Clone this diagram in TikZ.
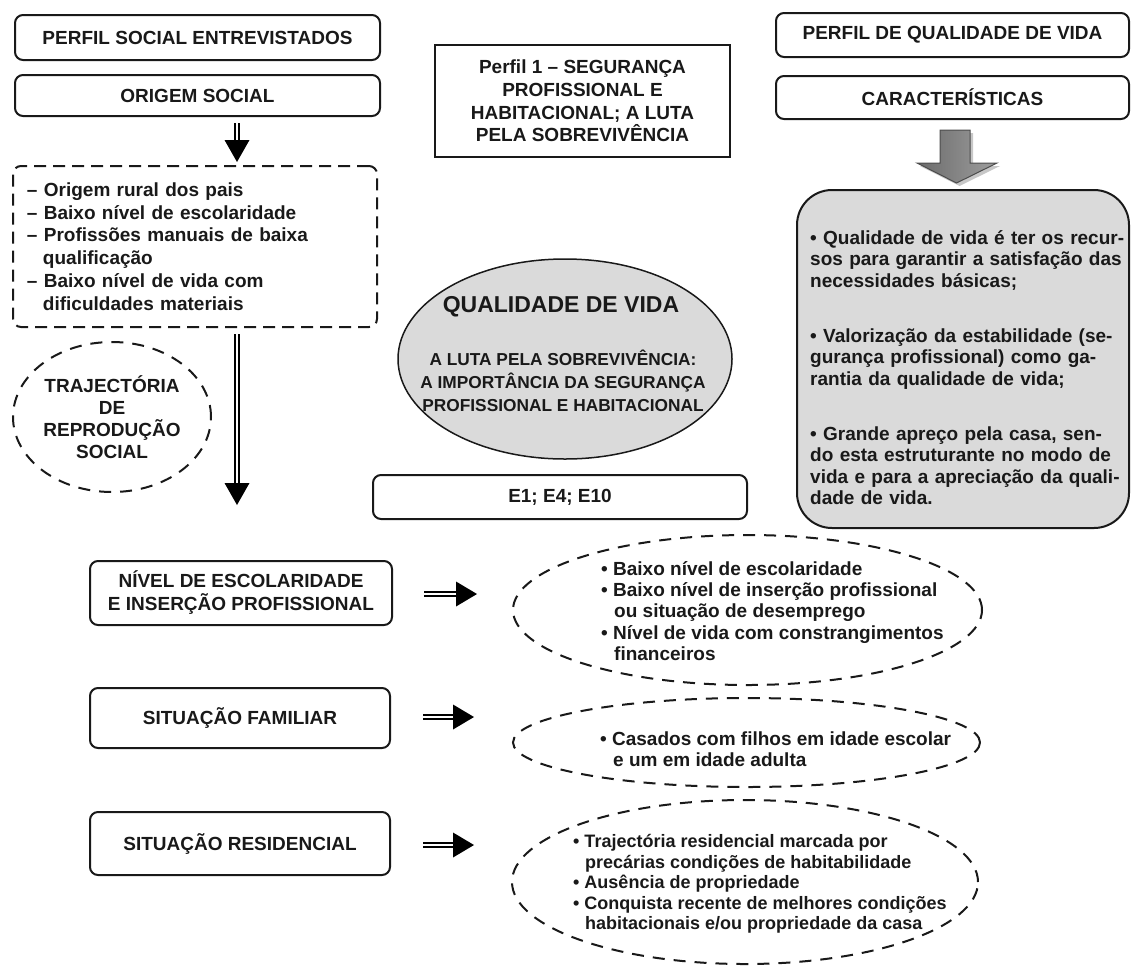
\documentclass[tikz,border=0pt]{standalone}
\usepackage{fontspec}
\setmainfont{Liberation Sans}
\usetikzlibrary{shapes.geometric,calc}
\newcommand\myA{\fontsize{19}{22.8}\selectfont\bfseries}
\newcommand\myP{\fontsize{19}{22.7}\selectfont\bfseries}
\newcommand\myT{\fontsize{23}{27}\selectfont\bfseries}
\newcommand\myS{\fontsize{17.3}{23}\selectfont\bfseries}
\newcommand\myQ{\fontsize{19}{21.5}\selectfont\bfseries}
\newcommand\myE{\fontsize{19}{21.3}\selectfont\bfseries}
\newcommand\myR{\fontsize{18}{20.5}\selectfont\bfseries}
\newcommand\myJ{\fontsize{19}{22}\selectfont\bfseries}
\newcommand\myN{\fontsize{19}{23}\selectfont\bfseries}
\definecolor{txt}{gray}{0.1}
\definecolor{lgray}{gray}{0.855}
\begin{document}
\begin{tikzpicture}[x=1pt,y=-1pt,
  every node/.style={text=txt, inner sep=0pt},
  rbox/.style={draw=txt, line width=2pt, rounded corners=8pt},
  dbox/.style={draw=txt, line width=2pt, dash pattern=on 12pt off 7pt, rounded corners=8pt},
  dell/.style={draw=txt, line width=2pt, dash pattern=on 12pt off 9pt, ellipse},
  dbl/.style={draw=black, double=white, line width=2.6pt, double distance=1.4pt},
  head/.style={fill=black}
]
\useasboundingbox (0,0) rectangle (1131,967);

% ---- left column top
\node[rbox, minimum width=365pt, minimum height=45pt, font=\myA] (psoc) at (197.5,37.5) {PERFIL SOCIAL ENTREVISTADOS};
\node[rbox, minimum width=365pt, minimum height=41pt, font=\myA] (orig) at (197.5,95.5) {ORIGEM SOCIAL};

\node[dbox, minimum width=364pt, minimum height=161pt, text width=336pt, align=left, font=\myA] (dlist) at (195,246.5)
 {– Origem rural dos pais\\
  – Baixo nível de escolaridade\\
  – Profissões manuais de baixa\\
  \hspace*{16pt}qualificação\\
  – Baixo nível de vida com\\
  \hspace*{16pt}dificuldades materiais};

\node[dell, minimum width=198pt, minimum height=150pt, align=center, font=\myJ] (traj) at (112,417)
 {TRAJECTÓRIA\\DE\\REPRODUÇÃO\\SOCIAL};

% arrow origem -> list
\coordinate (a1s) at (237,123);
\coordinate (a1h) at (237,141);
\coordinate (a1e) at (237,162);
\draw[dbl] (a1s) -- (a1h);
\fill[head] (a1e) -- ++(-12.5,-22) -- ++(25,0) -- cycle;

% long arrow
\coordinate (a2s) at (237,334);
\coordinate (a2h) at (237,485);
\coordinate (a2e) at (237,505);
\draw[dbl] (a2s) -- (a2h);
\fill[head] (a2e) -- ++(-12.5,-22) -- ++(25,0) -- cycle;

% ---- centre
\node[draw=txt, line width=1.3pt, minimum width=295pt, minimum height=112pt, align=center, font=\myP] (perf1) at (582.5,101)
 {Perfil 1 – SEGURANÇA\\PROFISSIONAL E\\HABITACIONAL; A LUTA\\PELA SOBREVIVÊNCIA};

\node[draw=txt, fill=lgray, line width=1.5pt, ellipse, minimum width=334pt, minimum height=200pt] (qv) at (565,359) {};
\node[font=\myT] (qvt) at (561,307) {QUALIDADE DE VIDA};
\node[font=\myS, align=center] (qvs) at (563,381)
 {A LUTA PELA SOBREVIVÊNCIA:\\A IMPORTÂNCIA DA SEGURANÇA\\PROFISSIONAL E HABITACIONAL};

\node[rbox, minimum width=374pt, minimum height=44pt, font=\myA] (e1) at (560,497) {E1; E4; E10};

% ---- right column
\node[rbox, minimum width=353pt, minimum height=44pt, font=\myA] (pqv) at (952.5,35) {PERFIL DE QUALIDADE DE VIDA};
\node[rbox, minimum width=353pt, minimum height=43pt, font=\myA] (carac) at (952.5,97.5) {CARACTERÍSTICAS};

% block arrow
\fill[black!22] (943,133) -- (973,133) -- (973,166) -- (1000,166) -- (959.5,186) -- (920,166) -- (943,166) -- cycle;
\draw[draw=black!70, line width=1pt, left color=black!58, right color=black!38]
  (940,130) -- (970,130) -- (970,163) -- (997,163) -- (956.5,183) -- (917,163) -- (940,163) -- cycle;

\node[draw=txt, fill=lgray, line width=2pt, rounded corners=35pt, minimum width=332pt, minimum height=338pt] (qbox) at (963,359) {};
\node[anchor=north west, text width=308pt, align=left, font=\myQ] (qtxt) at (810,230)
 {\makebox[308pt][s]{• Qualidade de vida é ter os recur-}\\
  \makebox[308pt][s]{sos para garantir a satisfação das}\\
  necessidades básicas;\\[33.5pt]
  \makebox[308pt][s]{• Valorização da estabilidade (se-}\\
  \makebox[308pt][s]{gurança profissional) como ga-}\\
  rantia da qualidade de vida;\\[33.5pt]
  \makebox[308pt][s]{• Grande apreço pela casa, sen-}\\
  \makebox[308pt][s]{do esta estruturante no modo de}\\
  \makebox[308pt][s]{vida e para a apreciação da quali-}\\
  dade de vida.};

% ---- lower section
\node[rbox, minimum width=302pt, minimum height=64pt, align=center, font=\myN] (nivel) at (241,593)
 {NÍVEL DE ESCOLARIDADE\\E INSERÇÃO PROFISSIONAL};
\node[rbox, minimum width=300pt, minimum height=60pt, font=\myA] (fam) at (240,718) {SITUAÇÃO FAMILIAR};
\node[rbox, minimum width=300pt, minimum height=63pt, font=\myA] (res) at (240,843.5) {SITUAÇÃO RESIDENCIAL};

\coordinate (h1s) at (424,594);
\coordinate (h1h) at (456,594);
\coordinate (h1e) at (477,594);
\draw[dbl] (h1s) -- (h1h);
\fill[head] (h1e) -- ++(-21,12.5) -- ++(0,-25) -- cycle;

\coordinate (h2s) at (423,717);
\coordinate (h2h) at (454,717);
\coordinate (h2e) at (474,717);
\draw[dbl] (h2s) -- (h2h);
\fill[head] (h2e) -- ++(-21,12.5) -- ++(0,-25) -- cycle;

\coordinate (h3s) at (423,845);
\coordinate (h3h) at (454,845);
\coordinate (h3e) at (474,845);
\draw[dbl] (h3s) -- (h3h);
\fill[head] (h3e) -- ++(-21,12.5) -- ++(0,-25) -- cycle;

\node[dell, minimum width=469pt, minimum height=150pt] (el1) at (747.5,610) {};
\node[anchor=west, align=left, font=\myE] (el1t) at (601,611)
 {• Baixo nível de escolaridade\\
  • Baixo nível de inserção profissional\\
  \hspace*{13pt}ou situação de desemprego\\
  • Nível de vida com constrangimentos\\
  \hspace*{13pt}financeiros};

\node[dell, minimum width=467pt, minimum height=89pt] (el2) at (746.5,742.5) {};
\node[anchor=west, align=left, font=\myE] (el2t) at (600,749)
 {• Casados com filhos em idade escolar\\
  \hspace*{13pt}e um em idade adulta};

\node[dell, minimum width=466pt, minimum height=164pt] (el3) at (745,882) {};
\node[anchor=west, align=left, font=\myR] (el3t) at (573,884)
 {• Trajectória residencial marcada por\\
  \hspace*{12pt}precárias condições de habitabilidade\\
  • Ausência de propriedade\\
  • Conquista recente de melhores condições\\
  \hspace*{12pt}habitacionais e/ou propriedade da casa};
\end{tikzpicture}
\end{document}
